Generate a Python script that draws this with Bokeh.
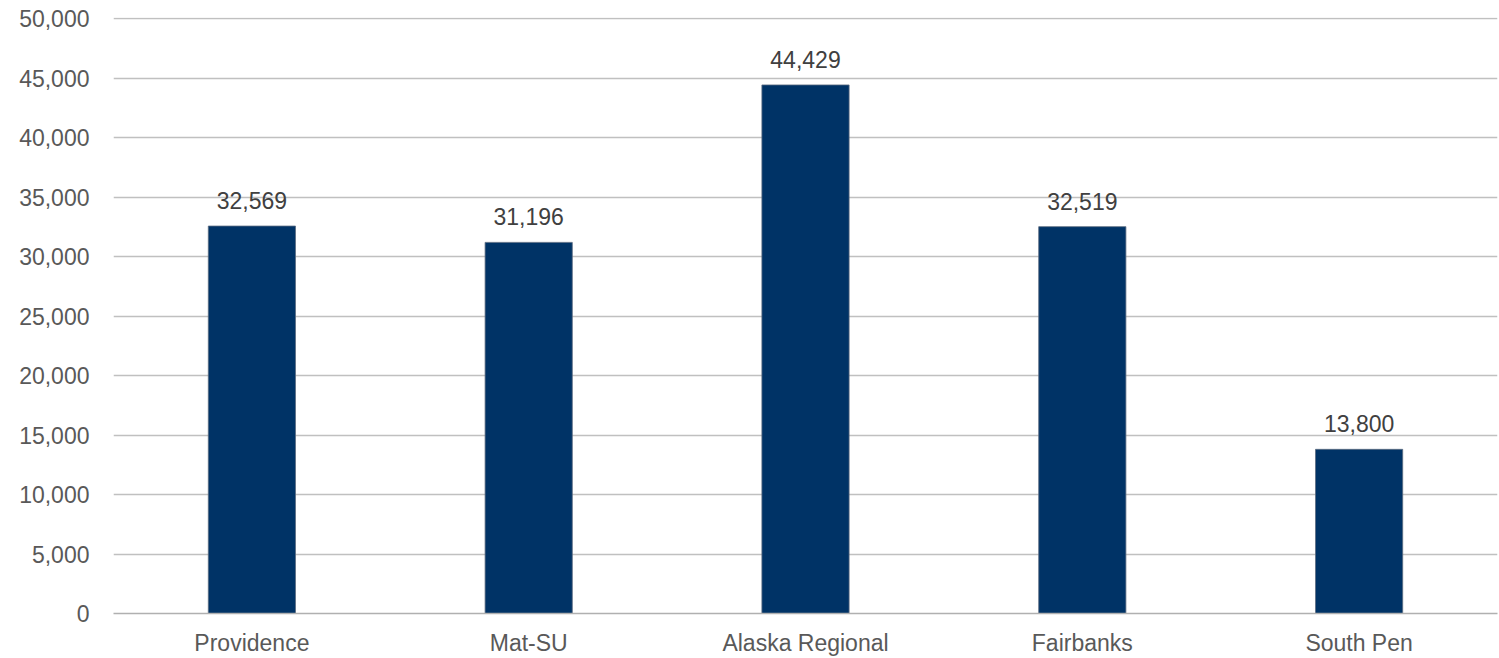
from bokeh.plotting import figure
from bokeh.models import ColumnDataSource, NumeralTickFormatter, FixedTicker, Range1d
from bokeh.embed import file_html
from bokeh.resources import INLINE
from bokeh.core.properties import value

categories = ["Providence", "Mat-SU", "Alaska Regional", "Fairbanks", "South Pen"]
values = [32569, 31196, 44429, 32519, 13800]
labels = [f"{v:,}" for v in values]
y_ticks = list(range(0, 50001, 5000))

src = ColumnDataSource(dict(cat=categories, val=values, lab=labels))

p = figure(x_range=categories, y_range=Range1d(0, 50100), width=1499, height=658,
           output_backend="svg", toolbar_location=None,
           min_border_left=113, min_border_right=2, min_border_top=17, min_border_bottom=41)
p.outline_line_color = None
p.vbar(x="cat", top="val", width=0.315, source=src, fill_color="#003366",
       line_color="#5a6b80", line_width=0.8)
p.text(x="cat", y="val", text="lab", source=src, text_align="center",
       text_baseline="bottom", y_offset=-17, text_font=value("Liberation Sans"),
       text_font_size="23px", text_color="#404040")

p.yaxis.ticker = FixedTicker(ticks=y_ticks)
p.yaxis.formatter = NumeralTickFormatter(format="0,0")
p.yaxis.axis_line_color = None
p.yaxis.major_tick_line_color = None
p.yaxis.minor_tick_line_color = None
p.yaxis.major_label_text_font = "Liberation Sans"
p.yaxis.major_label_text_font_size = "23px"
p.yaxis.major_label_text_color = "#595959"
p.yaxis.major_label_standoff = 18

p.xaxis.axis_line_color = "#b0b0b0"
p.xaxis.axis_line_width = 1.5
p.xaxis.major_tick_line_color = None
p.xaxis.minor_tick_line_color = None
p.xaxis.major_label_text_font = "Liberation Sans"
p.xaxis.major_label_text_font_size = "23px"
p.xaxis.major_label_text_color = "#595959"
p.xaxis.major_label_standoff = 10

p.xgrid.grid_line_color = None
p.ygrid.grid_line_color = "#c0c0c0"
p.ygrid.grid_line_width = 1.5
p.ygrid.ticker = FixedTicker(ticks=y_ticks)

open("out.html", "w").write(file_html(p, INLINE))
